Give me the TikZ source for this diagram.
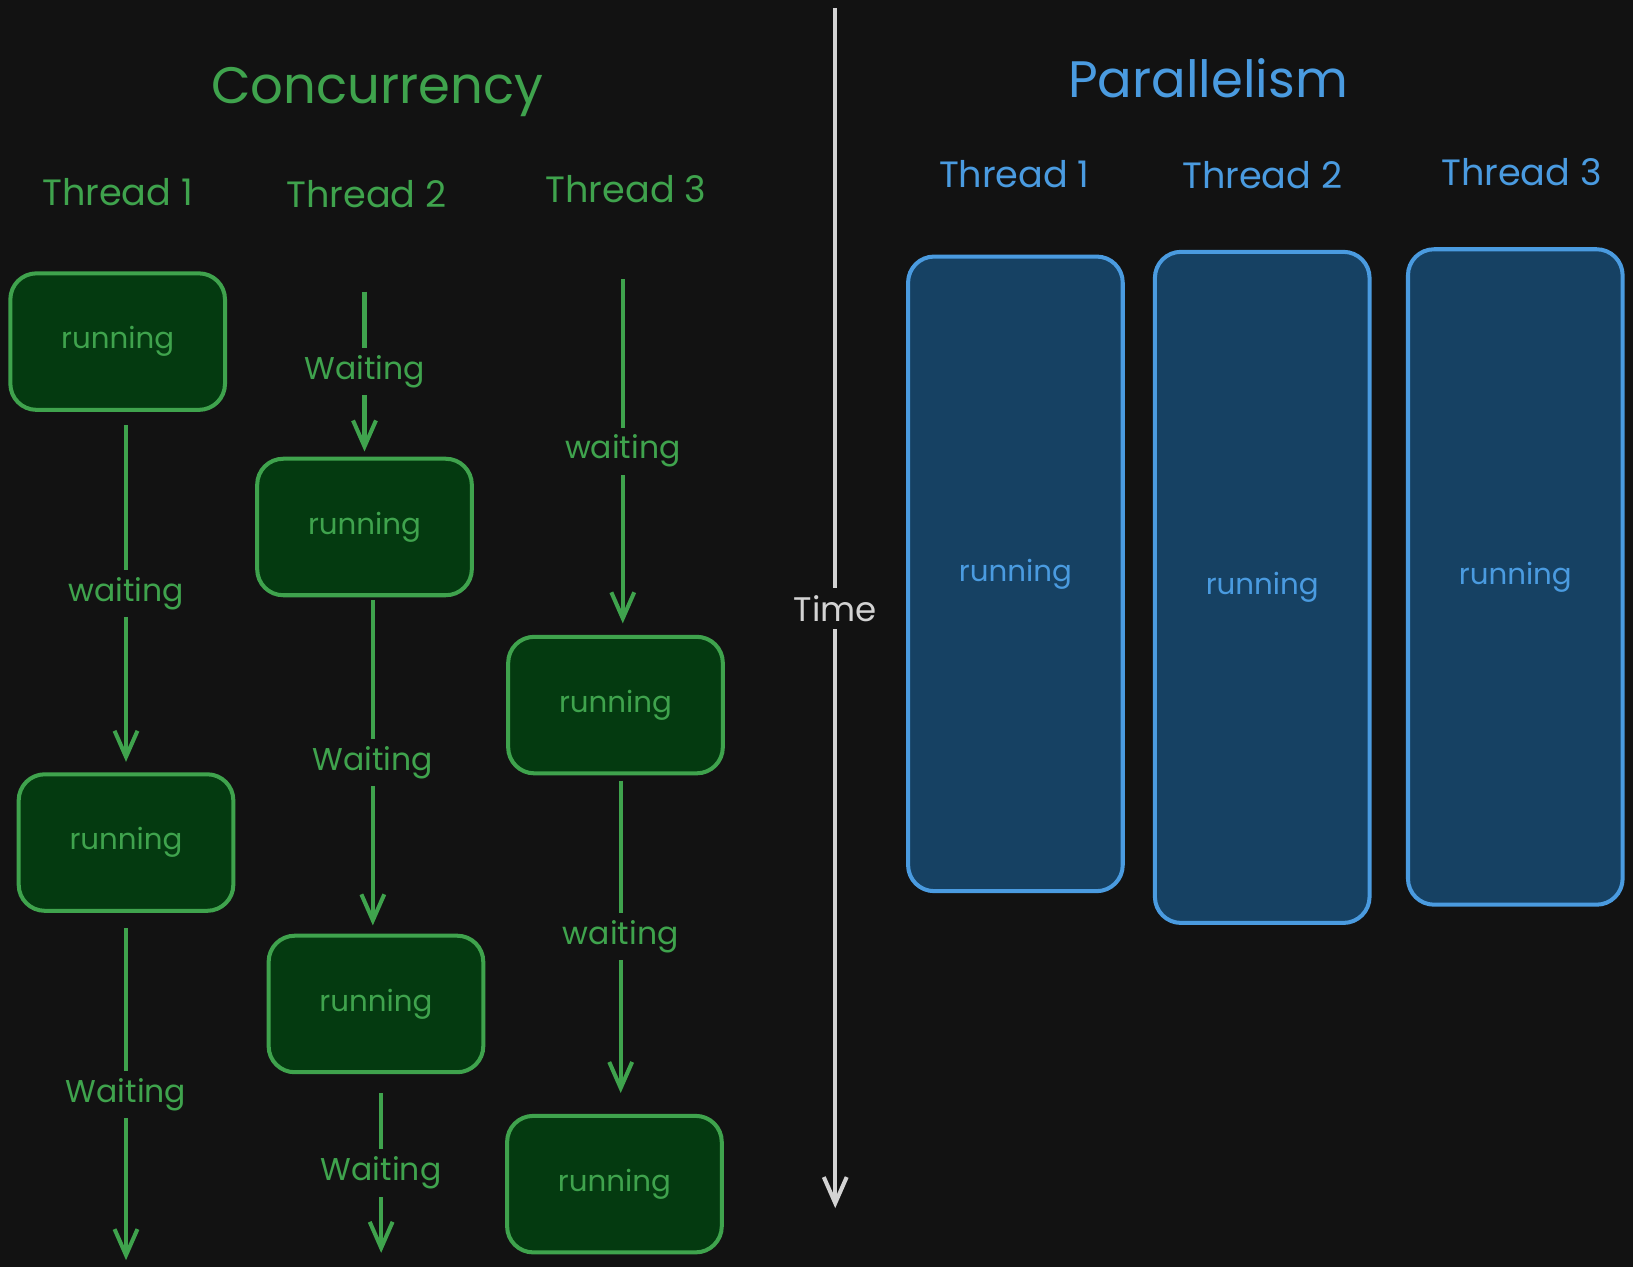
\documentclass[tikz,border=0pt]{standalone}
\usepackage{fontspec}
\setmainfont{Poppins}
\usetikzlibrary{arrows.meta}

\definecolor{bgdark}{HTML}{121212}
\definecolor{cgreen}{HTML}{3FA34D}
\definecolor{cgreenfill}{HTML}{043A10}
\definecolor{cblue}{HTML}{4A9BE0}
\definecolor{cbluefill}{HTML}{164163}
\definecolor{ctime}{HTML}{D3D3D3}

\tikzset{
  runbox/.style={draw=cgreen, fill=cgreenfill, text=cgreen, line width=1.1pt,
    rounded corners=0.25cm, minimum width=2.06cm, minimum height=1.31cm,
    font=\fontsize{8}{10}\selectfont},
  parbox/.style={draw=cblue, fill=cbluefill, text=cblue, line width=1.1pt,
    rounded corners=0.25cm, minimum width=2.06cm,
    font=\fontsize{8}{10}\selectfont},
  flow/.style={draw=cgreen, line width=1.1pt, -{Straight Barb[length=0.25cm, width=0.22cm]}},
  waitlbl/.style={fill=bgdark, text=cgreen, inner sep=2pt, font=\fontsize{8.6}{10}\selectfont},
  greentitle/.style={text=cgreen, font=\fontsize{14}{16}\selectfont},
  bluetitle/.style={text=cblue, font=\fontsize{14}{16}\selectfont},
  greenhead/.style={text=cgreen, font=\fontsize{10}{12}\selectfont},
  bluehead/.style={text=cblue, font=\fontsize{10}{12}\selectfont}
}

\begin{document}
\begin{tikzpicture}[x=0.01cm, y=-0.01cm]
% Background
\fill[bgdark] (0,0) rectangle (1568,1217);
\useasboundingbox (0,0) rectangle (1568,1217);

% Titles
\node[greentitle] (conc) at (362,88) {Concurrency};
\node[bluetitle] (para) at (1160,75) {Parallelism};

% Thread headings
\node[greenhead] (ch1) at (113,184) {Thread 1};
\node[greenhead] (ch2) at (352,186) {Thread 2};
\node[greenhead] (ch3) at (601,182) {Thread 3};
\node[bluehead] (ph1) at (974,167) {Thread 1};
\node[bluehead] (ph2) at (1212,168) {Thread 2};
\node[bluehead] (ph3) at (1461,165) {Thread 3};

% Concurrency: thread 1
\node[runbox] (t1a) at (113,328) {running};
\node[runbox] (t1b) at (121,809) {running};
\coordinate (end1) at (121,1210);
\draw[flow] (t1a.south -| t1b.north) ++(0,13) -- ([yshift=0.1cm]t1b.north)
  node[waitlbl, midway] {waiting};
\draw[flow] ([yshift=-0.15cm]t1b.south) -- (end1)
  node[waitlbl, midway] {Waiting};

% Concurrency: thread 2
\coordinate (top2) at (350,280);
\node[runbox] (t2a) at (350,506) {running};
\node[runbox] (t2b) at (361,964) {running};
\coordinate (end2) at (366,1203);
\draw[flow] (top2) -- ([yshift=0.05cm]t2a.north)
  node[waitlbl, midway] {Waiting};
\draw[flow] (t2a.south -| 358,0) ++(0,3) -- ([yshift=0.08cm]t2b.north -| 358,0)
  node[waitlbl, midway] {Waiting};
\draw[flow] ([yshift=-0.18cm]t2b.south -| end2) -- (end2)
  node[waitlbl, midway] {Waiting};

% Concurrency: thread 3
\coordinate (top3) at (598,268);
\node[runbox] (t3a) at (591,677) {running};
\node[runbox] (t3b) at (590,1137) {running};
\draw[flow] (top3) -- ([yshift=0.11cm]t3a.north -| top3)
  node[waitlbl, midway] {waiting};
\draw[flow] ([yshift=-0.05cm]t3a.south -| 596,0) -- ([yshift=0.2cm]t3b.north -| 596,0)
  node[waitlbl, midway] {waiting};

% Time axis
\coordinate (ttop) at (802,8);
\coordinate (tbot) at (802,1160);
\draw[ctime, line width=1.1pt, -{Straight Barb[length=0.25cm, width=0.22cm]}] (ttop) -- (tbot)
  node[midway, fill=bgdark, text=ctime, inner sep=2pt, font=\fontsize{9.3}{11}\selectfont] (time) {Time};

% Parallelism
\node[parbox, minimum height=6.09cm] (p1) at (975,551) {running};
\node[parbox, minimum height=6.44cm] (p2) at (1212,564) {running};
\node[parbox, minimum height=6.29cm] (p3) at (1455,554) {running};
\end{tikzpicture}
\end{document}
